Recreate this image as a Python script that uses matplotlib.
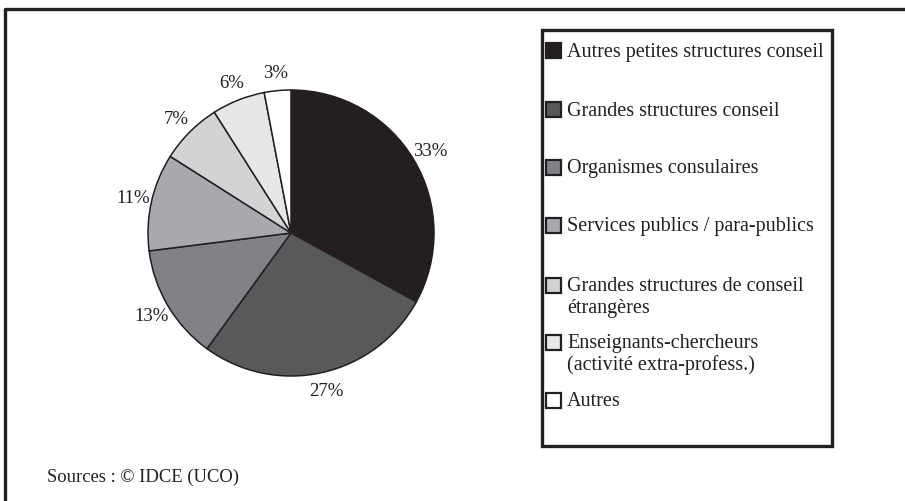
import matplotlib.pyplot as plt
from matplotlib.patches import Rectangle

plt.rcParams['font.family'] = ['Liberation Serif', 'DejaVu Serif']

categories = [
    "Autres petites structures conseil",
    "Grandes structures conseil",
    "Organismes consulaires",
    "Services publics / para-publics",
    "Grandes structures de conseil\nétrangères",
    "Enseignants-chercheurs\n(activité extra-profess.)",
    "Autres",
]
shares = [33, 27, 13, 11, 7, 6, 3]
greys = ["#231f20", "#58595b", "#808285", "#a7a9ac", "#d1d3d4", "#e6e7e8", "#ffffff"]
source_note = "Sources : © IDCE (UCO)"

W, H = 905, 502
fig = plt.figure(figsize=(W / 100, H / 100), dpi=100)

# overlay in pixel units for frame, legend and source line
over = fig.add_axes([0, 0, 1, 1])
over.set_xlim(0, W)
over.set_ylim(H, 0)
over.axis('off')
ink = "#231f20"
over.plot([5, 5, W], [H, 9.5, 9.5], color=ink, lw=2.4, solid_capstyle='butt')

# pie
cx, cy, r = 291, 234, 143
ax = fig.add_axes([(cx - r) / W, 1 - (cy + r) / H, 2 * r / W, 2 * r / H])
wedges, texts = ax.pie(
    shares, colors=greys, startangle=90, counterclock=False,
    labels=[f"{v}%" for v in shares], labeldistance=1.13,
    wedgeprops=dict(edgecolor=ink, linewidth=1.1),
    textprops=dict(fontsize=13.5, color=ink),
)
for t in texts:
    t.set_horizontalalignment('center')
    t.set_verticalalignment('center')
ax.set_xlim(-1, 1)
ax.set_ylim(-1, 1)
ax.set_aspect('auto')

# legend box
over.add_patch(Rectangle((542, 31), 290, 416, fill=False, edgecolor=ink, lw=2.4))
rows = [52, 111, 169, 227, 287, 344, 402]
for label, col, y in zip(categories, greys, rows):
    over.add_patch(Rectangle((546, y - 8), 15, 15, facecolor=col, edgecolor=ink, lw=1.6))
    first, *rest = label.split('\n')
    over.text(567, y, first, fontsize=14.5, color=ink, va='center')
    for k, line in enumerate(rest, 1):
        over.text(567, y + 21.5 * k, line, fontsize=14.5, color=ink, va='center')

over.text(47, 477, source_note, fontsize=13.4, color=ink, va='center')

fig.savefig("out.png", dpi=100)
